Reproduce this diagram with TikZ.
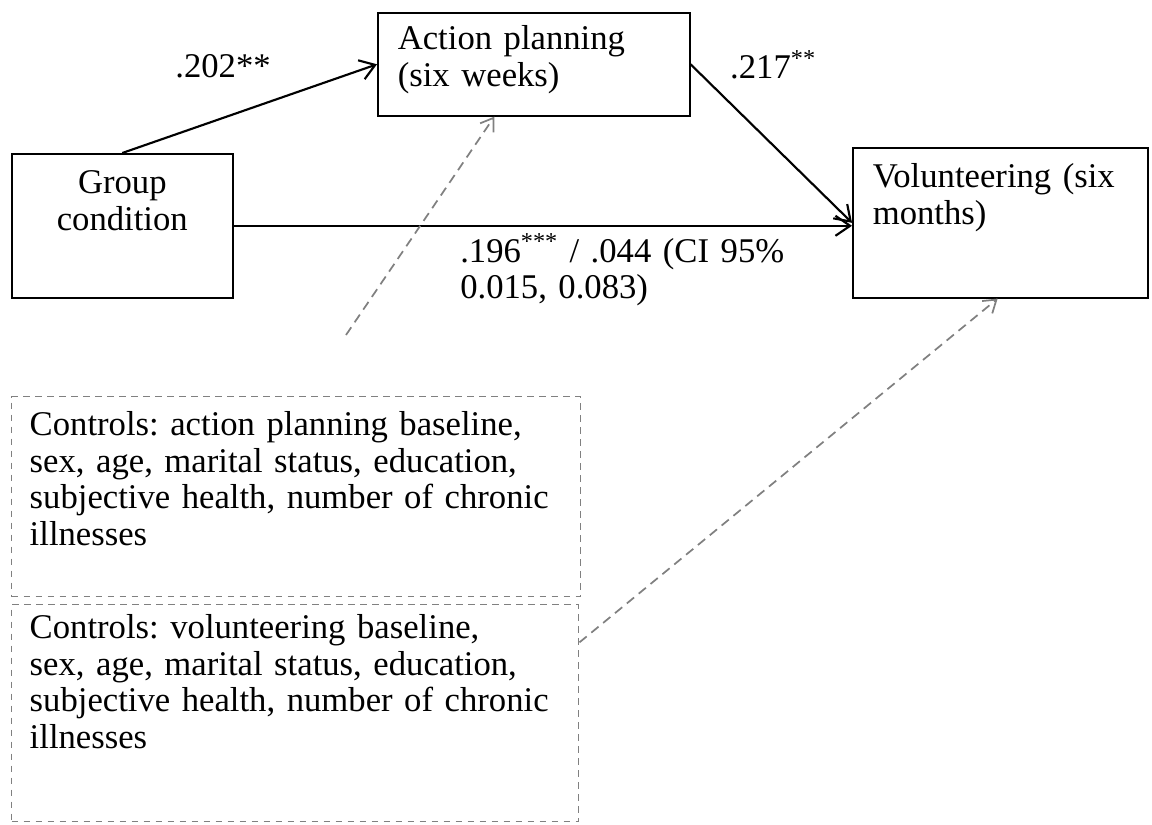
\documentclass[tikz,border=0pt]{standalone}
\usepackage{fontspec}
\setmainfont{Liberation Serif}
\usetikzlibrary{arrows.meta}
\definecolor{ctrlgray}{HTML}{808080}
\frenchspacing

\begin{document}
\begin{tikzpicture}[
			x=0.75pt, y=-0.75pt,
			font=\fontsize{26}{27.4}\selectfont,
			box/.style={rectangle, draw, line width=1.2pt, anchor=north west,
				inner xsep=15pt, inner ysep=0pt, align=left},
			ctrlbox/.style={box, draw=ctrlgray, line width=1.1pt, dash pattern=on 5pt off 4pt, inner xsep=13.5pt},
			effect/.style={line width=1.6pt, -{Straight Barb[length=11pt,width=15pt]}},
			ctrlarrow/.style={draw=ctrlgray, line width=1.3pt, dash pattern=on 7pt off 4.5pt,
				-{Straight Barb[length=9pt,width=12pt]}},
			coef/.style={anchor=base, inner sep=0pt},
			]
			\useasboundingbox (0,0) rectangle (1152,824);
			\node [box, align=center, inner xsep=7.5pt, text width=150.75pt, text height=30pt, text depth=78pt]
				(group) at (11,153) {Group\\ condition};
			\node [box, text width=204pt, text height=27.75pt, text depth=49.5pt]
				(action) at (377,12) {Action planning\\ (six weeks)};
			\node [box, text width=191.25pt, text height=30pt, text depth=82.5pt]
				(vol) at (852,147) {Volunteering (six\\ months)};
			\node [ctrlbox, text width=399.75pt, text height=29.25pt, text depth=120.75pt]
				(ctrlA) at (11,396) {Controls: action planning baseline,\\ sex, age, marital status, education,\\
				subjective health, number of chronic\\ illnesses};
			\node [ctrlbox, text width=398.25pt, text height=25.5pt, text depth=137.25pt]
				(ctrlB) at (11,604) {Controls: volunteering baseline,\\ sex, age, marital status, education,\\
				subjective health, number of chronic\\ illnesses};
			\node [coef] (b202) at (223,78) {.202**};
			\node [coef] (b217) at (773,79) {.217\textsuperscript{**}};
			\node [coef, anchor=base west, text width=250pt, align=left]
				(b196) at (460,262) {.196\textsuperscript{***} / .044 (CI 95\%\\ 0.015, 0.083)};
			\coordinate (c1) at (346,335);
			\draw[effect] (group.north) -- (action.west);
			\draw[effect] (action.east) -- (vol.west);
			\draw[effect] (group.east) -- (group.east -| vol.west);
			\draw[ctrlarrow] (c1) -- (action.233);
			\draw[ctrlarrow] (ctrlB.14) -- (vol.268);
		\end{tikzpicture}
\end{document}
